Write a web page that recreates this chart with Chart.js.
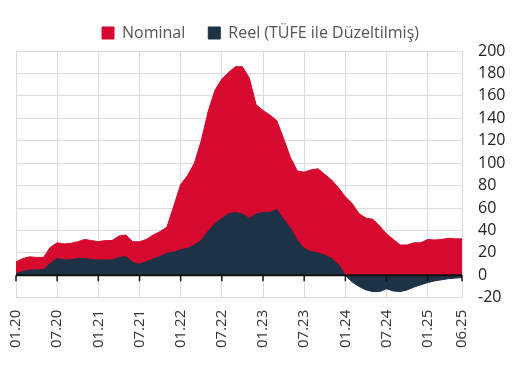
<!DOCTYPE html>
<html>
<head>
<meta charset="utf-8">
<script src="https://cdn.jsdelivr.net/npm/chart.js@4/dist/chart.umd.min.js"></script>
<style>
  html, body { margin: 0; padding: 0; background: #fff; }
  #wrap { width: 520px; height: 370px; }
</style>
</head>
<body>
<div id="wrap"><canvas id="chart"></canvas></div>
<script>
// monthly categories 01.20 .. 06.25
const months = [];
for (let y = 20; y <= 25; y++) {
  for (let m = 1; m <= 12; m++) {
    if (y === 25 && m > 6) break;
    months.push(String(m).padStart(2, '0') + '.' + y);
  }
}

const nominal = [12, 15, 16.5, 16, 16, 25, 29, 28, 28.5, 30, 32, 31, 30, 31, 31, 35, 36, 30, 30, 32,
  36, 39, 43, 62, 81, 89, 100, 120, 146, 165, 175, 181, 186, 186, 176, 152, 147, 143, 138, 122,
  105, 93, 92, 94, 95, 90, 85, 78, 70, 64, 55, 51, 50, 44, 37, 32, 27, 27, 29, 29,
  32, 31.5, 32, 33, 32.5, 32.5];

const real = [1.5, 3.6, 4.5, 5, 5, 10.6, 15, 13.7, 14, 15, 15, 14, 13.7, 13.7, 13.7, 15.8, 16.7, 11.5, 10, 12,
  14.6, 16.7, 19.7, 20.6, 22.8, 24, 27, 31, 39.5, 46, 50.7, 55, 56, 54.7, 50.7, 54.7, 56, 56, 58.6, 50,
  42, 31, 24, 21, 20, 18, 15, 9.7, 0, -6, -10, -13, -14.5, -14.5, -12, -14, -14.5, -13, -10.5, -8.5,
  -6.5, -5, -4, -3, -2.5, -2];

const seriesNames = ['Nominal', 'Reel (TÜFE ile Düzeltilmiş)'];
const red = '#d50a2e';
const navy = '#1e3246';

function isShown(i) {
  return i % 6 === 0 || i === months.length - 1;
}

// black zero line with small ticks under it
const zeroAxis = {
  id: 'zeroAxis',
  afterDatasetsDraw(chart) {
    const { ctx, chartArea, scales: { x, y } } = chart;
    const y0 = y.getPixelForValue(0);
    ctx.save();
    ctx.strokeStyle = '#111';
    ctx.lineWidth = 2;
    ctx.beginPath();
    ctx.moveTo(chartArea.left, y0);
    ctx.lineTo(chartArea.right, y0);
    ctx.stroke();
    ctx.lineWidth = 1.5;
    ctx.beginPath();
    months.forEach((m, i) => {
      if (!isShown(i)) return;
      const px = x.getPixelForValue(i);
      ctx.moveTo(px, y0);
      ctx.lineTo(px, y0 + 6);
    });
    ctx.stroke();
    ctx.restore();
  }
};

Chart.defaults.font.family = '"Open Sans", "Noto Sans", sans-serif';

new Chart('chart', {
  type: 'line',
  data: {
    labels: months,
    datasets: [
      {
        label: seriesNames[1],
        data: real,
        backgroundColor: navy,
        borderColor: navy,
        borderWidth: 1,
        fill: 'origin',
        pointRadius: 0
      },
      {
        label: seriesNames[0],
        data: nominal,
        backgroundColor: red,
        borderColor: red,
        borderWidth: 1,
        fill: 'origin',
        pointRadius: 0
      }
    ]
  },
  options: {
    responsive: true,
    maintainAspectRatio: false,
    animation: false,
    layout: { padding: { top: 2, left: 16, right: 15, bottom: 10 } },
    plugins: {
      legend: {
        reverse: true,
        labels: {
          boxWidth: 12,
          boxHeight: 12,
          padding: 23,
          color: '#555',
          font: { size: 16 }
        }
      },
      tooltip: { enabled: false }
    },
    scales: {
      x: {
        afterFit: s => { s.paddingRight = 0; },
        ticks: {
          autoSkip: false,
          maxRotation: 90,
          minRotation: 90,
          padding: 12,
          color: '#333',
          font: { size: 15 },
          callback: (v, i) => isShown(i) ? months[i] : ''
        },
        grid: {
          drawTicks: false,
          color: ctx => isShown(ctx.index) ? '#dcdcdc' : 'rgba(0,0,0,0)'
        },
        border: { display: false }
      },
      y: {
        position: 'right',
        min: -20,
        max: 200,
        afterFit: s => { s.width = 43; },
        ticks: {
          autoSkip: false,
          stepSize: 20,
          padding: 16,
          color: '#222',
          font: { size: 16 }
        },
        grid: { drawTicks: false, color: '#dcdcdc' },
        border: { display: false }
      }
    }
  },
  plugins: [zeroAxis]
});
</script>
</body>
</html>
